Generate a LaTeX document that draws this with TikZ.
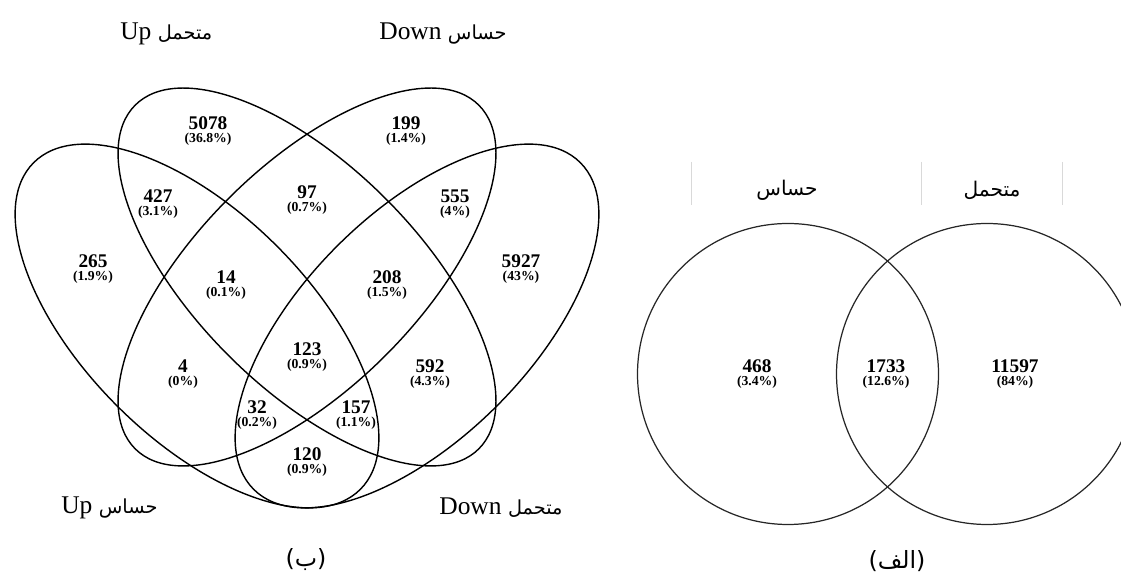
\documentclass[tikz,border=0pt]{standalone}
\usepackage{fontspec}
\setmainfont{Liberation Serif}
\newfontfamily\arabicfont[Script=Arabic]{DejaVu Sans}
\TeXXeTstate=1
\usetikzlibrary{positioning}

\newcommand{\fa}[1]{{\fontsize{11}{13}\selectfont\arabicfont\beginR #1\endR}}

\begin{document}
\begin{tikzpicture}[x=0.02cm, y=0.02cm]
        \tikzstyle{vennline}=[draw=black, line width=0.8pt]
        \tikzstyle{circline}=[draw=black!85, line width=0.7pt]
        \tikzstyle{count}=[inner sep=0pt, font=\fontsize{11}{12}\selectfont\bfseries]
        \tikzstyle{share}=[inner sep=0pt, font=\fontsize{7.8}{9}\selectfont\bfseries]
        \tikzstyle{setlabel}=[inner sep=0pt, anchor=west, font=\fontsize{14.5}{16}\selectfont]
        \tikzstyle{headlabel}=[inner sep=0pt, font=\fontsize{11.5}{14}\selectfont\arabicfont]
        \tikzstyle{caption}=[inner sep=0pt, font=\fontsize{13.5}{16}\selectfont\arabicfont]

        \useasboundingbox (0,0) rectangle (1121,577);

        % (b) up/down genes, four sets
        \coordinate (upSens) at (197,251);
        \coordinate (upTol) at (307,300);
        \coordinate (downSens) at (307,300);
        \coordinate (downTol) at (417,251);

        \draw[vennline, rotate around={135:(upSens)}] (upSens) ellipse [x radius=231, y radius=113];
        \draw[vennline, rotate around={135:(upTol)}] (upTol) ellipse [x radius=243, y radius=111];
        \draw[vennline, rotate around={45:(downSens)}] (downSens) ellipse [x radius=243, y radius=111];
        \draw[vennline, rotate around={45:(downTol)}] (downTol) ellipse [x radius=231, y radius=113];

        \foreach \n/\x/\y/\p in {5078/208/454/36.8, 199/406/454/1.4, 427/158/381/3.1,
                97/307/385/0.7, 555/455/381/4, 265/93/316/1.9, 14/226/300/0.1,
                208/387/300/1.5, 5927/521/316/43, 123/307/228/0.9, 4/183/211/0,
                592/430/211/4.3, 32/257/170/0.2, 157/356/170/1.1, 120/307/123/0.9} {
            \node[count] (n\n) at (\x,\y) {\n};
            \node[share] (p\n) at (\x,\y-16) {(\p\%)};
        }

        \node[setlabel] (lUpTol) at (120,543) {Up \fa{متحمل}};
        \node[setlabel] (lDownSens) at (379,543) {Down \fa{حساس}};
        \node[setlabel] (lUpSens) at (61,69) {Up \fa{حساس}};
        \node[setlabel] (lDownTol) at (439,69) {Down \fa{متحمل}};

        \node[caption] (capB) at (306,17) {\beginR(ب)\endR};

        % (a) all genes, two sets
        \coordinate (sens) at (788,203);
        \coordinate (tol) at (987,203);
        \draw[circline] (sens) circle [radius=150.5];
        \draw[circline] (tol) circle [radius=150.5];

        \foreach \x in {691, 921, 1062}
            \draw[black!15, line width=0.5pt] (\x,415) -- (\x,372);
        \node[headlabel] (hSens) at (787,387) {\beginR حساس\endR};
        \node[headlabel] (hTol) at (992,387) {\beginR متحمل\endR};

        \node[count] (n468) at (757,211) {468};
        \node[share] (p468) at (757,195) {(3.4\%)};
        \node[count] (n1733) at (886,211) {1733};
        \node[share] (p1733) at (886,195) {(12.6\%)};
        \node[count] (n11597) at (1015,211) {11597};
        \node[share] (p11597) at (1015,195) {(84\%)};

        \node[caption] (capA) at (897,16) {\beginR(الف)\endR};
    \end{tikzpicture}
\end{document}
